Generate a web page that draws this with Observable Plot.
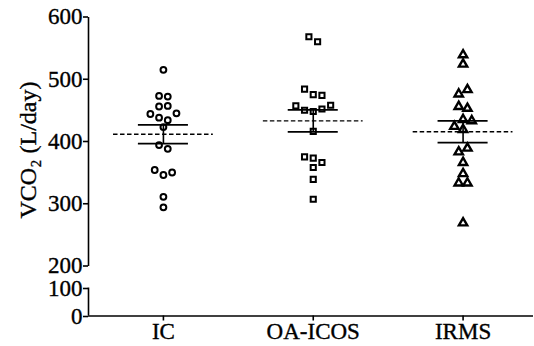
<!DOCTYPE html>
<html><head><meta charset="utf-8">
<script src="https://cdn.jsdelivr.net/npm/d3@7"></script>
<script src="https://cdn.jsdelivr.net/npm/@observablehq/plot@0.6"></script>
<style>
  html, body { margin: 0; padding: 0; background: #fff; }
  svg { display: block; }
  svg text { stroke: #000; stroke-width: 0.35px; }
</style>
</head><body>
<div id="chart"></div>
<script>
// ---- data ----
const groups = ["IC", "OA-ICOS", "IRMS"];
const symbols = ["circle", "square", "triangle"];
const icValues = [516, 474, 473, 457, 458, 445, 439, 435, 446, 424, 395, 389, 355, 347, 351, 312, 295];
const oaIcosValues = [569, 561, 485, 476, 475, 458, 451, 449, 453, 459, 417, 376, 374, 367, 359, 340, 308];
const irmsValues = [540, 525, 477, 484, 457, 454, 425, 436, 434, 420, 384, 390, 367, 349, 334, 334, 270];
const lowerTicks = [0, 100];
const upperTicks = [200, 300, 400, 500, 600];
const yAxisLabel = "VCO\u2082 (L/day)";

// ---- layout ----
const W = 534, H = 346;
const xOpts = {type: "linear", domain: [-0.5, 2.47], range: [88, 533]};
const yOpts = {type: "linear", domain: [0, 100, 200, 600], range: [315.5, 287.5, 266, 17]};
const xScale = Plot.scale({x: xOpts});
const pxPerUnit = xScale.apply(1) - xScale.apply(0);
const spacingPx = 8.7;   // horizontal distance between neighbouring symbols
const rowSpan = 11.6;    // values closer than this share a row

const allValues = [icValues, oaIcosValues, irmsValues];

function swarm(values, gi) {
  const idx = d3.range(values.length).sort((a, b) => values[b] - values[a] || a - b);
  const rows = [];
  let cur = null;
  for (const i of idx) {
    if (!cur || values[cur[0]] - values[i] > rowSpan) { cur = [i]; rows.push(cur); }
    else cur.push(i);
  }
  const out = [];
  for (const row of rows) {
    row.sort((a, b) => a - b);
    row.forEach((i, k) => out.push({
      group: groups[gi], gi, value: values[i],
      x: gi + ((k - (row.length - 1) / 2) * spacingPx) / pxPerUnit
    }));
  }
  return out;
}

const points = allValues.flatMap((v, gi) => swarm(v, gi));
const stats = allValues.map((v, gi) => {
  const m = d3.mean(v);
  const sem = d3.deviation(v) / Math.sqrt(v.length);
  return {gi, mean: m, lo: m - sem, hi: m + sem};
});
const axisSegments = [d3.extent(lowerTicks), d3.extent(upperTicks)];

const ink = "#000";
const fs = 23;
const chart = Plot.plot({
  width: W, height: H,
  marginLeft: 88, marginRight: 1, marginTop: 17, marginBottom: 30.5,
  style: {fontFamily: "'Liberation Serif', 'Times New Roman', serif", fontSize: fs + "px", color: ink, background: "#fff"},
  x: {...xOpts, axis: null},
  y: {...yOpts, axis: null},
  marks: [
    // broken y axis
    Plot.ruleX(axisSegments, {x: () => xOpts.domain[0], y1: d => d[0], y2: d => d[1], stroke: ink, strokeWidth: 1.6}),
    Plot.axisY(upperTicks, {tickSize: 5, tickPadding: 1, fontSize: fs, fill: ink, stroke: ink, strokeWidth: 1.6, label: null, anchor: "left", dy: -0.5}),
    Plot.axisY(lowerTicks, {tickSize: 5, tickPadding: 1, fontSize: fs, fill: ink, stroke: ink, strokeWidth: 1.6, label: null, anchor: "left", dy: 0.5}),
    // x axis
    Plot.ruleY([0], {stroke: ink, strokeWidth: 1.6}),
    Plot.axisX([0, 1, 2], {tickFormat: i => groups[i], tickSize: 5, tickPadding: 2, fontSize: fs, fill: ink, stroke: ink, strokeWidth: 1.6, label: null, anchor: "bottom"}),
    // y axis label
    Plot.text([yAxisLabel], {x: () => xOpts.domain[0], y: () => d3.mean(d3.extent(upperTicks)), text: d => d, rotate: -90, dx: -60, dy: 8, fontSize: 24, fill: ink}),
    // points, one symbol per group
    ...symbols.map((s, gi) => Plot.dot(points, {filter: d => d.gi === gi, x: "x", y: "value", symbol: s, r: gi === 2 ? 3.1 : 2.9, stroke: ink, strokeWidth: gi === 2 ? 2.4 : 2, fill: "none"})),
    // mean (dashed)
    Plot.ruleY(stats, {y: "mean", x1: d => d.gi - 0.333, x2: d => d.gi + 0.333, stroke: ink, strokeWidth: 1.4, strokeDasharray: "4.5,2.5"}),
    // SEM
    Plot.ruleY(stats, {y: "hi", x1: d => d.gi - 0.167, x2: d => d.gi + 0.167, stroke: ink, strokeWidth: 1.9}),
    Plot.ruleY(stats, {y: "lo", x1: d => d.gi - 0.167, x2: d => d.gi + 0.167, stroke: ink, strokeWidth: 1.9}),
    Plot.ruleX(stats, {x: "gi", y1: "lo", y2: "hi", stroke: ink, strokeWidth: 1.6})
  ]
});
document.getElementById("chart").appendChild(chart);
</script>
</body></html>
